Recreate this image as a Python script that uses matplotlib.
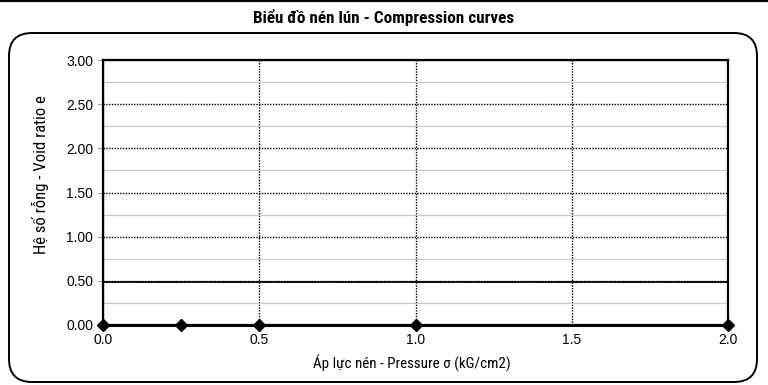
import matplotlib.pyplot as plt
from matplotlib.patches import FancyBboxPatch
from matplotlib.lines import Line2D
import numpy as np

# data
pressure = [0.0, 0.25, 0.5, 1.0, 2.0]
void_ratio = [0.0, 0.0, 0.0, 0.0, 0.0]
ref_x = [0.0, 2.0]
ref_e = [0.49, 0.49]

title = "Biểu đồ nén lún - Compression curves"
xlabel = "Áp lực nén - Pressure σ (kG/cm2)"
ylabel = "Hệ số rỗng - Void ratio e"

narrow = ['Liberation Sans Narrow', 'Roboto Condensed', 'Roboto', 'DejaVu Sans']
plt.rcParams['font.family'] = ['Liberation Sans', 'DejaVu Sans']

fig = plt.figure(figsize=(7.68, 3.85), dpi=100)
W, H = 768, 385
ax = fig.add_axes([103 / W, 1 - 325 / H, 625 / W, 265 / H])

# rounded frame around the chart
box = FancyBboxPatch((9 / W, 3 / H), 748 / W, 349 / H,
                     boxstyle="round,pad=0,rounding_size=0.03",
                     transform=fig.transFigure, fill=False,
                     edgecolor='black', linewidth=1.4, mutation_aspect=W / H)
fig.patches.append(box)
# spreadsheet border line on top
fig.add_artist(Line2D([0, 1], [1 - 1.2 / H, 1 - 1.2 / H], transform=fig.transFigure,
                      color='black', linewidth=1.6))

fig.text(0.5, 1 - 18 / H, title, ha='center', va='center', fontsize=12.3,
         fontweight='bold', family=narrow)

ax.set_xlim(0, 2.0)
ax.set_ylim(0, 3.0)
ax.set_xticks(np.arange(0, 2.01, 0.5))
ax.set_yticks(np.arange(0, 3.01, 0.5))
ax.set_yticks(np.arange(0, 3.01, 0.25), minor=True)
ax.set_xticklabels([f"{v:.1f}" for v in np.arange(0, 2.01, 0.5)])
ax.set_yticklabels([f"{v:.2f}" for v in np.arange(0, 3.01, 0.5)])

ax.grid(which='minor', axis='y', color='#c8c8c8', linewidth=0.9, linestyle='-')
ax.grid(which='major', axis='both', color='black', linewidth=1.0, linestyle=(0, (1, 1)))
ax.set_axisbelow(True)

ax.tick_params(axis='y', which='major', length=4, color='#a0a0a0', labelsize=10, pad=3)
ax.tick_params(axis='y', which='minor', length=0)
ax.tick_params(axis='x', length=0, labelsize=10, pad=6)

for s in ax.spines.values():
    s.set_linewidth(1.6)
    s.set_color('black')

ax.plot(ref_x, ref_e, color='black', linewidth=1.3, zorder=3)
ax.plot(pressure, void_ratio, color='black', linewidth=2.2, marker='D',
        markersize=6.5, zorder=4, clip_on=False)

ax.set_xlabel(xlabel, fontsize=10.8, family=narrow)
ax.xaxis.set_label_coords(0.494, -29 / 265)
ax.set_ylabel(ylabel, fontsize=12, family=narrow)
ax.yaxis.set_label_coords(-54 / 625, 0.566)

fig.savefig("out.png", dpi=100)
